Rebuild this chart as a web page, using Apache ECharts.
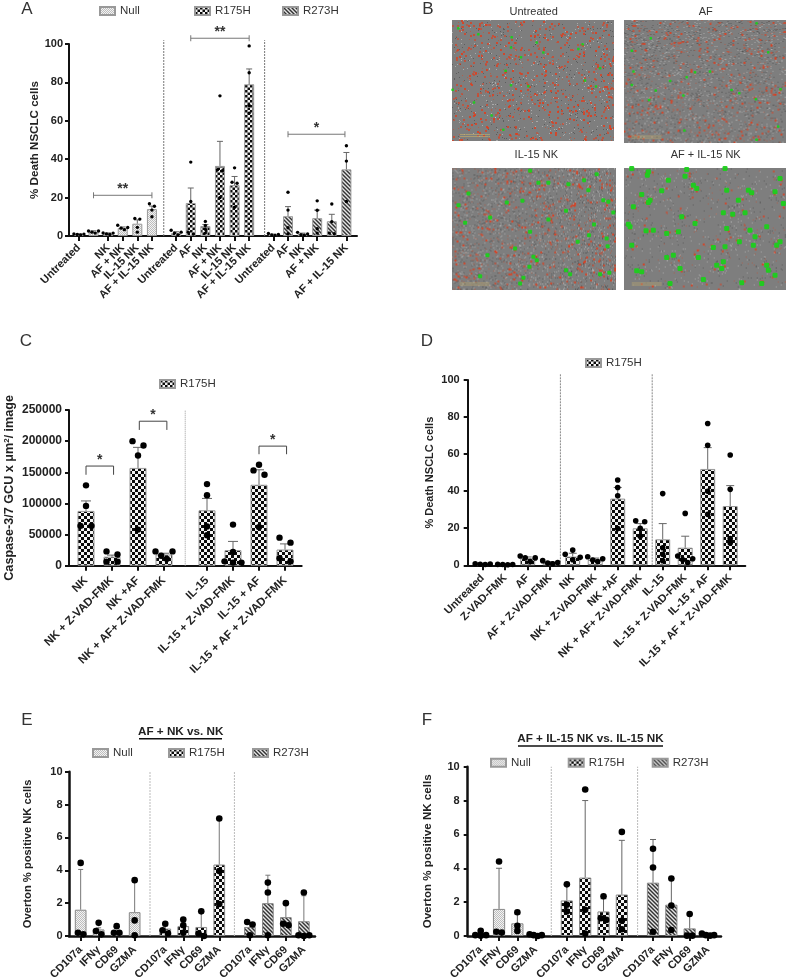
<!DOCTYPE html>
<html><head><meta charset="utf-8">
<style>html,body{margin:0;padding:0;background:#fff}#c{width:789px;height:979px}</style>
<script src="https://cdn.jsdelivr.net/npm/echarts@6/dist/echarts.min.js"></script>
</head><body><div id="c"></div>
<script>
// ---------- Panel A ----------
const A_labels = ['Untreated','AF','NK','AF + NK','IL-15 NK','AF + IL-15 NK'];
const A_null_mean = [0.9,2.1,1.2,4.1,6.4,14];
const A_null_err  = [1.1,2.7,1.6,4.7,8.4,15.6];
const A_null_pts  = [[0.6,0.8,1,1.1],[1.5,2,2.6,2.6],[0.8,1.1,1.5,1.6],[3.3,4.1,4.4,5.6],[2,4.5,8.8,9.1],[10,13.5,15.5,16.8]];
const A_r175_mean = [1.6,17.2,5.2,36.5,26.5,79];
const A_r175_err  = [2.2,25,6,49.3,31,87];
const A_r175_pts  = [[0.5,1.5,2,3],[1,2,18,38.5],[1.5,3.5,5.5,7.6],[20,34,34.5,73],[15,27.5,28,35.5],[64,68,85,99]];
const A_r273_mean = [0.7,10.3,1,9.3,7.7,34.7];
const A_r273_err  = [1,15.3,1.5,13.5,11.3,43.5];
const A_r273_pts  = [[0.3,0.5,0.8,1.3],[1.2,4.3,13.5,22.8],[0.4,0.7,1.1,1.9],[1.5,3.8,13.4,18.3],[1.2,1.5,7.5,16.7],[18,39,47]];
const A_brackets  = [[1,5,21.2,'**'],[7,11,103,'**'],[13,16.9,53,'*']];
// ---------- Panel C ----------
const C_labels = ['NK','NK + Z-VAD-FMK','NK +AF','NK + AF+ Z-VAD-FMK','IL-15','IL-15 + Z-VAD-FMK','IL-15 + AF','IL-15 + AF + Z-VAD-FMK'];
const C_mean = [88000,14500,157000,18000,89000,25000,130000,26000];
const C_err  = [104000,17000,190000,20000,108000,39000,154000,35000];
const C_pts  = [[64000,64000,96000,129000],[6500,6500,18000,23000],[58000,177000,193000,200000],[11000,16000,23000,23000],[49000,63000,113000,131000],[5000,5000,7000,22000,66000],[62000,146000,153000,162000],[7000,12000,37000,45000]];
const C_brackets = [[0,1.06,160000,'*',146000],[2.05,3.11,232000,'*',218000],[6,7.06,192000,'*',179000]];
// ---------- Panel D ----------
const D_labels = ['Untreated','Z-VAD-FMK','AF','AF + Z-VAD-FMK','NK','NK + Z-VAD-FMK','NK +AF','NK + AF+ Z-VAD-FMK','IL-15','IL-15 + Z-VAD-FMK','IL-15 + AF','IL-15 + AF + Z-VAD-FMK'];
const D_mean = [0.6,0.3,3.8,1.4,4.7,3,36,20,14,9.5,52,32];
const D_err  = [0.9,0.5,4.5,2,6.5,3.9,42,22.5,22.5,15.7,63.5,43];
const D_pts  = [[0.4,0.6,0.7,0.8],[0.3,0.4,0.4,0.5],[2,4,4,5],[0.8,1.2,1.5,2.5],[3,4.3,6,8.2],[2,2.8,3.5,4.6],[19.8,37.5,42,46],[15.7,20,23.5,24],[2.5,6,9.5,38.7],[1.5,3,3.5,5,28],[27.5,40,64.8,76.5],[12,14.5,41,59.5]];
// ---------- Panel E ----------
const marker_labels = ['CD107a','IFNγ','CD69','GZMA'];
const E_null_mean = [1.6,0.4,0.25,1.45];
const E_null_err  = [4.05,0.5,0.3,3.3];
const E_null_pts  = [[0.1,0.2,4.45],[0.1,0.3,0.8],[0.2,0.2,0.6],[0.05,0.95,3.4]];
const E_r175_mean = [0.45,0.6,0.55,4.35];
const E_r175_err  = [0.6,0.85,1.4,7.1];
const E_r175_pts  = [[0.15,0.35,0.75],[0.2,0.65,1],[0,0.15,1.5],[1.95,3.95,7.15]];
const E_r273_mean = [0.55,2,1.15,0.9];
const E_r273_err  = [0.75,3.7,2,2.45];
const E_r273_pts  = [[0.05,0.7,0.85],[0.05,2.65,3.25],[0.65,0.75,2],[0,0.05,0.05,2.65]];
// ---------- Panel F ----------
const F_null_mean = [0.05,1.6,0.75,0.05];
const F_null_err  = [0.15,4,1.3,0.1];
const F_null_pts  = [[0.02,0.05,0.05,0.3],[0.2,0.25,4.4],[0.3,0.6,1.4],[0,0.05,0.05,0.1]];
const F_r175_mean = [2.1,3.45,1.45,2.45];
const F_r175_err  = [3,8,2.2,5.65];
const F_r175_pts  = [[1.45,1.85,3.05],[0.15,1.55,8.65],[0.95,1.05,2.35],[0.4,0.9,6.15]];
const F_r273_mean = [3.15,1.85,0.45,0.05];
const F_r273_err  = [5.7,3.4,1.3,0.1];
const F_r273_pts  = [[0.25,4.05,5.15],[0.35,1.8,3.4],[0.02,0.02,1.3],[0.02,0.05,0.05,0.15]];
// ---------- Panel B: green objects (crop coordinates) ----------
const B_titles = ['Untreated','AF','IL-15 NK','AF + IL-15 NK'];
const B_green1 = [[55,85],[215,112],[213,143],[243,172],[428,133],[415,147],[197,213],[265,259],[213,256],[435,242],[468,260],[102,308],[190,390],[155,347],[38,270],[480,205],[115,103],[290,128],[310,158]];
const B_green2 = [[950,70],[632,115],[575,152],[985,157],[740,232],[690,243],[580,215],[647,272],[627,300],[730,287],[765,217],[875,270],[898,280],[948,298],[1022,268],[733,392],[1015,380],[950,420],[575,255],[810,215]];
const B_green3 = [[432,540],[85,580],[445,570],[490,600],[505,605],[520,637],[150,652],[325,658],[55,615],[75,668],[378,632],[200,607],[247,602],[295,548],[385,552],[270,512],[470,522],[462,673],[447,705],[413,725],[270,695],[500,715],[503,738],[225,745],[142,765],[280,770],[268,800],[250,833],[240,850],[378,810],[390,822],[120,828],[480,822],[508,818],[290,780],[325,548]];
const B_green4 = [[622,525],[575,505],[740,508],[735,528],[760,555],[770,565],[605,583],[630,600],[665,572],[625,607],[580,620],[565,672],[570,680],[618,692],[640,690],[680,700],[715,695],[765,670],[850,638],[878,642],[915,638],[895,600],[925,570],[935,578],[1020,535],[1005,575],[980,680],[930,690],[945,710],[940,735],[1020,725],[1010,735],[898,725],[860,685],[575,735],[590,812],[605,815],[680,772],[700,765],[775,772],[820,742],[855,740],[850,785],[830,795],[845,805],[720,805],[690,850],[790,838],[905,848],[965,850],[980,795],[985,810],[1005,825],[860,570],[685,540],[855,505],[1030,610],[725,650],[625,515]];

const FONT = 'Liberation Sans';

// ---------- fill patterns ----------
function pattern(kind, cell) {
  const cv = document.createElement('canvas');
  if (kind === 'check') {
    const n = cell * 2;
    cv.width = cv.height = Math.ceil(n * 2);
    const c = cv.getContext('2d');
    c.fillStyle = '#f4f4f4'; c.fillRect(0, 0, cv.width, cv.height);
    c.fillStyle = '#0a0a0a';
    for (let i = 0; i < 4; i++) for (let j = 0; j < 4; j++)
      if ((i + j) % 2 === 0) c.fillRect(i * cell, j * cell, cell, cell);
  } else if (kind === 'dots') {
    cv.width = cv.height = 2;
    const c = cv.getContext('2d');
    c.fillStyle = '#f3f3f3'; c.fillRect(0, 0, 2, 2);
    c.fillStyle = '#bdbdbd'; c.fillRect(0, 0, 1, 1); c.fillRect(1, 1, 1, 1);
  } else {
    cv.width = cv.height = 4;
    const c = cv.getContext('2d');
    for (let x = 0; x < 4; x++) for (let y = 0; y < 4; y++) {
      const d = (x - y + 8) % 4;
      c.fillStyle = d === 0 ? '#333' : d === 1 || d === 3 ? '#8a8a8a' : '#e6e6e6';
      c.fillRect(x, y, 1, 1);
    }
  }
  return { image: cv, repeat: 'repeat' };
}

// ---------- layout holders ----------
const grid = [], xAxis = [], yAxis = [], series = [], title = [], legend = [], graphic = [];

function addPanel(p) {
  const gi = grid.length;
  const w = p.x1 - p.x0, h = p.y0 - p.y1;
  const axisW = p.axisW || 2;
  grid.push({ left: p.x0, top: p.y1, width: w, height: h, containLabel: false, outerBoundsMode: 'none' });
  const xOf = i => p.first + i + p.gap * Math.floor(i / p.groupSize);
  const pxY = h / p.max;
  const labelMap = {}, ticks = [];
  p.labels.forEach((t, i) => { const v = xOf(i); ticks.push(v); labelMap[v.toFixed(3)] = t; });
  xAxis.push({
    gridIndex: gi, type: 'value', min: 0, max: w / p.band, splitLine: { show: false },
    axisLine: { show: true, lineStyle: { color: '#111', width: axisW } },
    axisTick: { show: true, customValues: ticks, length: 5, lineStyle: { color: '#111', width: 2 } },
    axisLabel: { show: true, customValues: ticks, rotate: 45, margin: p.xMargin, interval: 0, hideOverlap: false,
      showMinLabel: true, showMaxLabel: true,
      formatter: v => labelMap[Number(v).toFixed(3)] || '',
      fontFamily: FONT, fontWeight: 'bold', fontSize: p.xFont, color: '#222' }
  });
  yAxis.push({
    gridIndex: gi, type: 'value', min: 0, max: p.max, interval: p.step, splitLine: { show: false },
    axisLine: { show: true, lineStyle: { color: '#111', width: axisW } },
    axisTick: { show: true, length: 4, lineStyle: { color: '#111', width: 2 } },
    axisLabel: { margin: p.yMargin, formatter: v => String(v), fontFamily: FONT, fontWeight: 'bold', fontSize: p.yFont, color: '#222' },
    name: p.yName, nameLocation: 'middle', nameGap: p.nameGap,
    nameTextStyle: { fontFamily: FONT, fontWeight: 'bold', fontSize: p.nameFont, color: '#222',
      rich: { sup: { fontSize: 8, fontWeight: 'bold', verticalAlign: 'bottom', padding: [0, 0, 6, 0], fontFamily: FONT, color: '#222' } } }
  });
  const ax = { xAxisIndex: gi, yAxisIndex: gi };
  // separators
  series.push(Object.assign({}, ax, {
    type: 'custom', silent: true, z: 1, clip: false,
    data: p.seps.map(s => [s, p.sepTop]),
    renderItem: (params, api) => {
      const a = api.coord([api.value(0), 0]), b = api.coord([api.value(0), api.value(1)]);
      return { type: 'line', shape: { x1: a[0], y1: a[1], x2: b[0], y2: b[1] },
        style: { stroke: p.sepColor, lineWidth: p.sepWidth, lineDash: p.sepDash } };
    }
  }));
  // bars, error bars, points per group
  let offset = 0;
  p.groups.forEach(g => {
    const n = g.mean.length;
    const base = offset;
    series.push(Object.assign({}, ax, {
      type: 'bar', name: g.name, barWidth: p.barW, barGap: '-100%', z: 2, silent: true,
      itemStyle: { color: pattern(g.kind, p.cell), borderColor: p.barBorder, borderWidth: 1 },
      data: g.mean.map((v, i) => [xOf(base + i), v])
    }));
    series.push(Object.assign({}, ax, {
      type: 'custom', silent: true, z: 3,
      data: g.mean.map((v, i) => [xOf(base + i), v, g.err[i]]),
      renderItem: (params, api) => {
        const a = api.coord([api.value(0), api.value(1)]), b = api.coord([api.value(0), api.value(2)]);
        const st = { stroke: p.errColor, lineWidth: 1 };
        return { type: 'group', children: [
          { type: 'line', shape: { x1: a[0], y1: a[1], x2: b[0], y2: b[1] }, style: st },
          { type: 'line', shape: { x1: b[0] - p.capW / 2, y1: b[1], x2: b[0] + p.capW / 2, y2: b[1] }, style: st }
        ] };
      }
    }));
    const pts = [];
    g.pts.forEach((vals, i) => {
      const s = vals.slice().sort((a, b) => b - a);
      let row = [];
      const flush = () => {
        const m = row.length;
        const d = m > 1 ? Math.min(p.dotD, p.barW / (m - 1)) : 0;
        // highest points take the outer slots, so a low cluster stays flat instead of a diagonal
        row.forEach((v, k) => {
          const slot = k % 2 === 0 ? k / 2 : m - 1 - (k - 1) / 2;
          pts.push([xOf(base + i) + (slot - (m - 1) / 2) * d / p.band, v]);
        });
        row = [];
      };
      s.forEach(v => {
        if (row.length && (row[row.length - 1] - v) * pxY > p.rowPx) flush();
        row.push(v);
      });
      flush();
    });
    series.push(Object.assign({}, ax, {
      type: 'scatter', silent: true, z: 4, clip: false, symbol: 'circle', symbolSize: p.dot,
      itemStyle: { color: '#000', opacity: 1 }, data: pts
    }));
    offset += n;
  });
  // significance brackets
  if (p.brackets) {
    series.push(Object.assign({}, ax, {
      type: 'custom', silent: true, z: 5, clip: false,
      data: p.brackets.map(b => [xOf(b[0]), xOf(b[1]), b[2], b[4] == null ? b[2] : b[4], b[3]]),
      renderItem: (params, api) => {
        const L = api.coord([api.value(0), api.value(2)]), R = api.coord([api.value(1), api.value(2)]);
        const dropTo = api.coord([api.value(0), api.value(3)])[1];
        const st = { stroke: p.brColor, lineWidth: p.brWidth, fill: null };
        const kids = [{ type: 'line', shape: { x1: L[0], y1: L[1], x2: R[0], y2: R[1] }, style: st }];
        [L[0], R[0]].forEach(x => {
          const y1 = dropTo > L[1] ? L[1] : L[1] - 3, y2 = dropTo > L[1] ? dropTo : L[1] + 3;
          kids.push({ type: 'line', shape: { x1: x, y1, x2: x, y2 }, style: st });
        });
        kids.push({ type: 'text', style: { text: p.brackets[params.dataIndex][3], x: (L[0] + R[0]) / 2, y: L[1] - 6,
          align: 'center', verticalAlign: 'middle', font: 'bold 14px "' + FONT + '"', fill: '#333' } });
        return { type: 'group', children: kids };
      }
    }));
  }
}

function addLegend(name, x, cy) {
  legend.push({ data: [name], left: x, top: cy - 5, padding: 0, icon: 'rect', itemWidth: 15, itemHeight: 8, selectedMode: false,
    textStyle: { fontFamily: FONT, fontSize: 11.5, color: '#333' } });
}
function addText(text, x, y, font) {
  title.push({ text, left: x, top: y, padding: 0, textAlign: 'center', textVerticalAlign: 'middle',
    textStyle: Object.assign({ fontFamily: FONT, fontWeight: 'normal', color: '#333' }, font) });
}

const grp = (name, kind, mean, err, pts) => ({ name, kind, mean, err, pts });
const NULLN = 'Null', R175 = 'R175H', R273 = 'R273H';

addPanel({ x0: 69, x1: 357, y0: 236, y1: 44, max: 100, step: 20, band: 14.6, first: 0.68, gap: 0.66, groupSize: 6,
  barW: 10, cell: 2.5, dot: 3.4, dotD: 5, rowPx: 2.5, capW: 6, errColor: '#666', barBorder: '#999',
  labels: [...A_labels, ...A_labels, ...A_labels],
  groups: [grp(NULLN, 'dots', A_null_mean, A_null_err, A_null_pts), grp(R175, 'check', A_r175_mean, A_r175_err, A_r175_pts), grp(R273, 'hatch', A_r273_mean, A_r273_err, A_r273_pts)],
  seps: [6.49, 13.4], sepTop: 102, sepColor: '#777', sepWidth: 1, sepDash: [2, 1],
  brackets: A_brackets, brColor: '#777', brWidth: 1,
  xFont: 11, yFont: 11, xMargin: 10, yMargin: 6, yName: '% Death NSCLC cells', nameGap: 28, nameFont: 11.6 });

addPanel({ x0: 69, x1: 301.7, y0: 565.7, y1: 410, max: 250000, step: 50000, band: 26, first: 0.654, gap: 0.654, groupSize: 4,
  barW: 17, cell: 3, dot: 6.4, dotD: 11, rowPx: 5, capW: 10, errColor: '#666', barBorder: '#999',
  labels: C_labels,
  groups: [grp(R175, 'check', C_mean, C_err, C_pts)],
  seps: [4.47], sepTop: 250000, sepColor: '#999', sepWidth: 1, sepDash: [1, 1],
  brackets: C_brackets, brColor: '#444', brWidth: 1,
  xFont: 11.5, yFont: 12, xMargin: 13, yMargin: 7, yName: 'Caspase-3/7 GCU x μm{sup|2}/ image', nameGap: 52, nameFont: 12.6 });

addPanel({ x0: 467.7, x1: 745.3, y0: 565.3, y1: 380, max: 100, step: 20, band: 22.5, first: 0.667, gap: 0, groupSize: 12,
  barW: 15, cell: 3, dot: 5.6, dotD: 9, rowPx: 4, capW: 8, errColor: '#666', barBorder: '#999',
  labels: D_labels,
  groups: [grp(R175, 'check', D_mean, D_err, D_pts)],
  seps: [4.12, 8.2], sepTop: 103.5, sepColor: '#888', sepWidth: 1, sepDash: [2, 1],
  xFont: 11, yFont: 11, xMargin: 11, yMargin: 8, yName: '% Death NSCLC cells', nameGap: 32.7, nameFont: 11 });

addPanel({ x0: 69, x1: 315, y0: 936, y1: 771.7, max: 10, step: 2, band: 18, first: 0.648, gap: 0.7, groupSize: 4, axisW: 2.5,
  barW: 11.7, cell: 3, dot: 6.6, dotD: 5.4, rowPx: 4, capW: 5, errColor: '#777', barBorder: '#888',
  labels: [...marker_labels, ...marker_labels, ...marker_labels],
  groups: [grp(NULLN, 'dots', E_null_mean, E_null_err, E_null_pts), grp(R175, 'check', E_r175_mean, E_r175_err, E_r175_pts), grp(R273, 'hatch', E_r273_mean, E_r273_err, E_r273_pts)],
  seps: [4.5, 9.19], sepTop: 10, sepColor: '#bbb', sepWidth: 1, sepDash: [2, 1],
  xFont: 11, yFont: 11, xMargin: 12, yMargin: 6.5, yName: 'Overton % positive NK cells', nameGap: 36, nameFont: 11.2 });

addPanel({ x0: 467.7, x1: 721, y0: 936, y1: 766.7, max: 10, step: 2, band: 18.33, first: 0.71, gap: 0.7, groupSize: 4, axisW: 2.5,
  barW: 12.2, cell: 3, dot: 6.6, dotD: 5.4, rowPx: 4, capW: 6, errColor: '#666', barBorder: '#888',
  labels: [...marker_labels, ...marker_labels, ...marker_labels],
  groups: [grp(NULLN, 'dots', F_null_mean, F_null_err, F_null_pts), grp(R175, 'check', F_r175_mean, F_r175_err, F_r175_pts), grp(R273, 'hatch', F_r273_mean, F_r273_err, F_r273_pts)],
  seps: [4.56, 9.27], sepTop: 10, sepColor: '#bbb', sepWidth: 1, sepDash: [2, 1],
  xFont: 11, yFont: 11, xMargin: 12, yMargin: 8, yName: 'Overton % positive NK cells', nameGap: 33.5, nameFont: 11.6 });

// ---------- legends ----------
[[NULLN, 99, 10], [R175, 194, 10], [R273, 282, 10], [R175, 159, 383], [R175, 585, 362],
 [NULLN, 92, 752], [R175, 168, 752], [R273, 252, 752], [NULLN, 490, 761.7], [R175, 567.7, 761.7], [R273, 651.7, 761.7]]
  .forEach(l => addLegend(l[0], l[1], l[2]));

// ---------- panel letters and headings ----------
[['A', 27, 9], ['B', 428, 9], ['C', 26, 341], ['D', 427, 341], ['E', 27, 720], ['F', 427, 720]]
  .forEach(l => addText(l[0], l[1], l[2], { fontSize: 17 }));
addText('AF + NK vs. NK', 180.7, 731.7, { fontSize: 11.7, fontWeight: 'bold', color: '#222' });
addText('AF + IL-15 NK vs. IL-15 NK', 590.5, 739, { fontSize: 11.7, fontWeight: 'bold', color: '#222' });
[[139, 222, 738.7], [518, 663, 746]].forEach(u => graphic.push({ type: 'line', silent: true,
  shape: { x1: u[0], y1: u[2], x2: u[1], y2: u[2] }, style: { stroke: '#111', lineWidth: 1.5 } }));

// ---------- Panel B micrographs ----------
function texture(w, h, o) {
  const src = document.createElement('canvas'); src.width = w; src.height = h;
  const c = src.getContext('2d');
  c.fillStyle = '#7e7e7e'; c.fillRect(0, 0, w, h);
  let s = o.seed;
  const rnd = () => { s = (s * 1664525 + 1013904223) >>> 0; return s / 4294967296; };
  const dot = (x, y, col, sz) => { c.fillStyle = col; c.fillRect(Math.round(x), Math.round(y), sz, sz); };
  const grain = (x, y) => {
    const r = rnd();
    if (r < 0.4) dot(x, y, 'rgba(225,225,225,0.45)', 1);
    else if (r < 0.8) dot(x, y, 'rgba(60,60,60,0.5)', 1);
    else dot(x, y, 'rgba(200,80,50,0.6)', 1);
  };
  for (let i = 0; i < o.grain; i++) grain(rnd() * w, rnd() * h);
  for (let i = 0; i < o.red; i++) dot(rnd() * w, rnd() * h, 'rgba(222,62,30,' + (0.45 + rnd() * 0.45) + ')', 2);
  (o.near || []).forEach(p => {
    for (let i = 0; i < 7; i++) grain(p[0] + (rnd() - 0.5) * 16, p[1] + (rnd() - 0.5) * 16);
    dot(p[0] + (rnd() - 0.5) * 8, p[1] + (rnd() - 0.5) * 8, 'rgba(215,70,30,0.8)', 2);
  });
  const cv = document.createElement('canvas'); cv.width = w; cv.height = h;
  const d = cv.getContext('2d');
  d.filter = 'blur(0.45px)';
  d.drawImage(src, 0, 0);
  d.filter = 'none';
  d.fillStyle = 'rgba(190,170,110,0.7)';
  d.fillRect(8, h - 7, 30, 1);
  d.fillRect(8, h - 5, 30, 1);
  return cv;
}
const B_panels = [
  { rect: [452, 20, 162, 121], crop: [36, 522, 60, 424], green: B_green1, size: 2.5, tex: { seed: 11, grain: 900, red: 500 } },
  { rect: [623.5, 20, 162, 122.5], crop: [550, 1037, 60, 428], green: B_green2, size: 2.5, tex: { seed: 23, grain: 2400, red: 260 } },
  { rect: [451.5, 167.5, 164.5, 122], crop: [34, 528, 502, 868], green: B_green3, size: 4, tex: { seed: 37, grain: 2800, red: 300 } },
  { rect: [623.7, 167.5, 162, 122], crop: [551, 1037, 502, 868], green: B_green4, size: 5, tex: { seed: 53, grain: 500, red: 40 } }
];
B_panels.forEach((b, i) => {
  const r = b.rect, cr = b.crop, gi = grid.length;
  const near = b.tex.red < 100 ? b.green.map(p => [(p[0] - cr[0]) / 3, (p[1] - cr[2]) / 3]) : null;
  graphic.push({ type: 'image', silent: true, x: r[0], y: r[1], z: 0,
    style: { image: texture(Math.round(r[2]), Math.round(r[3]), Object.assign({ near }, b.tex)), x: 0, y: 0, width: r[2], height: r[3] } });
  grid.push({ left: r[0], top: r[1], width: r[2], height: r[3], outerBoundsMode: 'none' });
  xAxis.push({ gridIndex: gi, type: 'value', show: false, min: cr[0], max: cr[1] });
  yAxis.push({ gridIndex: gi, type: 'value', show: false, min: cr[2], max: cr[3], inverse: true });
  series.push({ type: 'scatter', silent: true, xAxisIndex: gi, yAxisIndex: gi, symbol: 'roundRect', symbolSize: b.size,
    itemStyle: { color: '#1ccf1c', opacity: 0.95 }, data: b.green, z: 6 });
});
[[533.7, 11.7], [705.7, 11.7], [536.3, 155], [705.7, 155]].forEach((p, i) => addText(B_titles[i], p[0], p[1], { fontSize: 11 }));

const chart = echarts.init(document.getElementById('c'), null, { renderer: 'canvas' });
chart.setOption({ animation: false, backgroundColor: '#fff', tooltip: { show: false },
  grid, xAxis, yAxis, series, title, legend, graphic: { elements: graphic } });
</script>
</body></html>
